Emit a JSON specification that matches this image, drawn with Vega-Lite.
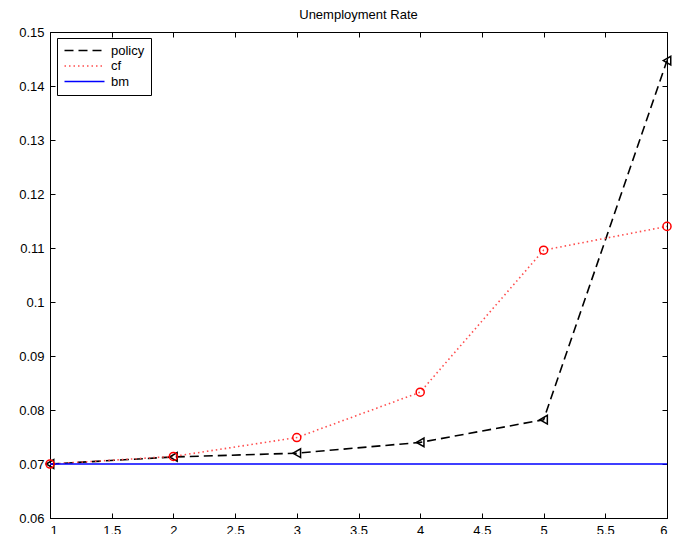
{
  "$schema": "https://vega.github.io/schema/vega-lite/v6.json",
  "autosize": "none",
  "width": 617,
  "height": 486,
  "padding": {"left": 50, "top": 32, "right": 13, "bottom": 16},
  "background": "white",
  "title": {
    "text": "Unemployment Rate",
    "font": "Liberation Sans",
    "fontSize": 13,
    "fontWeight": "normal",
    "color": "#000000",
    "offset": 4
  },
  "config": {
    "view": {"stroke": "#000000", "strokeWidth": 1},
    "axis": {
      "grid": false,
      "domainColor": "#000000",
      "tickColor": "#000000",
      "labelColor": "#000000",
      "labelFont": "Liberation Sans",
      "labelFontSize": 13,
      "tickSize": -5,
      "title": null
    }
  },
  "data": {
    "values": [
      {"series": "policy", "x": 1, "y": 0.0700},
      {"series": "policy", "x": 2, "y": 0.0713},
      {"series": "policy", "x": 3, "y": 0.0720},
      {"series": "policy", "x": 4, "y": 0.0740},
      {"series": "policy", "x": 5, "y": 0.0782},
      {"series": "policy", "x": 6, "y": 0.1447},
      {"series": "cf", "x": 1, "y": 0.0700},
      {"series": "cf", "x": 2, "y": 0.0714},
      {"series": "cf", "x": 3, "y": 0.0749},
      {"series": "cf", "x": 4, "y": 0.0833},
      {"series": "cf", "x": 5, "y": 0.1096},
      {"series": "cf", "x": 6, "y": 0.1140},
      {"series": "bm", "x": 1, "y": 0.0700},
      {"series": "bm", "x": 2, "y": 0.0700},
      {"series": "bm", "x": 3, "y": 0.0700},
      {"series": "bm", "x": 4, "y": 0.0700},
      {"series": "bm", "x": 5, "y": 0.0700},
      {"series": "bm", "x": 6, "y": 0.0700}
    ]
  },
  "resolve": {"axis": {"x": "independent", "y": "independent"}},
  "layer": [
    {
      "mark": {"type": "line", "clip": true, "strokeWidth": 1.6},
      "encoding": {
        "x": {
          "field": "x", "type": "quantitative",
          "scale": {"domain": [1, 6], "nice": false, "zero": false},
          "axis": {"orient": "bottom", "labelPadding": 11, "values": [1, 1.5, 2, 2.5, 3, 3.5, 4, 4.5, 5, 5.5, 6], "format": "~g"}
        },
        "y": {
          "field": "y", "type": "quantitative",
          "scale": {"domain": [0.06, 0.15], "nice": false, "zero": false},
          "axis": {"orient": "left", "labelPadding": 11, "values": [0.06, 0.07, 0.08, 0.09, 0.1, 0.11, 0.12, 0.13, 0.14, 0.15], "format": "~g"}
        },
        "color": {
          "field": "series", "type": "nominal",
          "scale": {"domain": ["policy", "cf", "bm"], "range": ["#000000", "#ff4d4d", "#0000ff"]},
          "legend": {
            "orient": "none",
            "legendX": 7,
            "legendY": 6,
            "title": null,
            "symbolType": "M-1,0H7",
            "symbolSize": 100,
            "symbolStrokeWidth": 1.6,
            "labelFont": "Liberation Sans",
            "labelFontSize": 13,
            "labelColor": "#000000",
            "labelOffset": 35,
            "strokeColor": "#000000",
            "fillColor": "#ffffff",
            "padding": 6,
            "rowPadding": 1.5
          }
        },
        "strokeDash": {
          "field": "series", "type": "nominal",
          "scale": {"domain": ["policy", "cf", "bm"], "range": [[9, 5], [1.5, 3], [1, 0]]}
        }
      }
    },
    {
      "transform": [{"filter": "datum.series !== 'bm'"}],
      "mark": {"type": "point", "filled": false, "strokeWidth": 1.5, "opacity": 1},
      "encoding": {
        "x": {"field": "x", "type": "quantitative", "axis": null},
        "y": {"field": "y", "type": "quantitative", "axis": null},
        "stroke": {
          "field": "series", "type": "nominal",
          "scale": {"domain": ["policy", "cf"], "range": ["#000000", "#ff0000"]},
          "legend": null
        },
        "shape": {
          "field": "series", "type": "nominal",
          "scale": {"domain": ["policy", "cf"], "range": ["triangle-left", "circle"]},
          "legend": null
        },
        "size": {
          "field": "series", "type": "nominal",
          "scale": {"domain": ["policy", "cf"], "range": [75, 65]},
          "legend": null
        }
      }
    },
    {
      "mark": {"type": "point", "opacity": 0},
      "encoding": {
        "x": {
          "field": "x", "type": "quantitative",
          "axis": {"orient": "top", "labels": false, "domain": false, "values": [1, 1.5, 2, 2.5, 3, 3.5, 4, 4.5, 5, 5.5, 6]}
        },
        "y": {
          "field": "y", "type": "quantitative",
          "axis": {"orient": "right", "labels": false, "domain": false, "values": [0.06, 0.07, 0.08, 0.09, 0.1, 0.11, 0.12, 0.13, 0.14, 0.15]}
        }
      }
    }
  ]
}
